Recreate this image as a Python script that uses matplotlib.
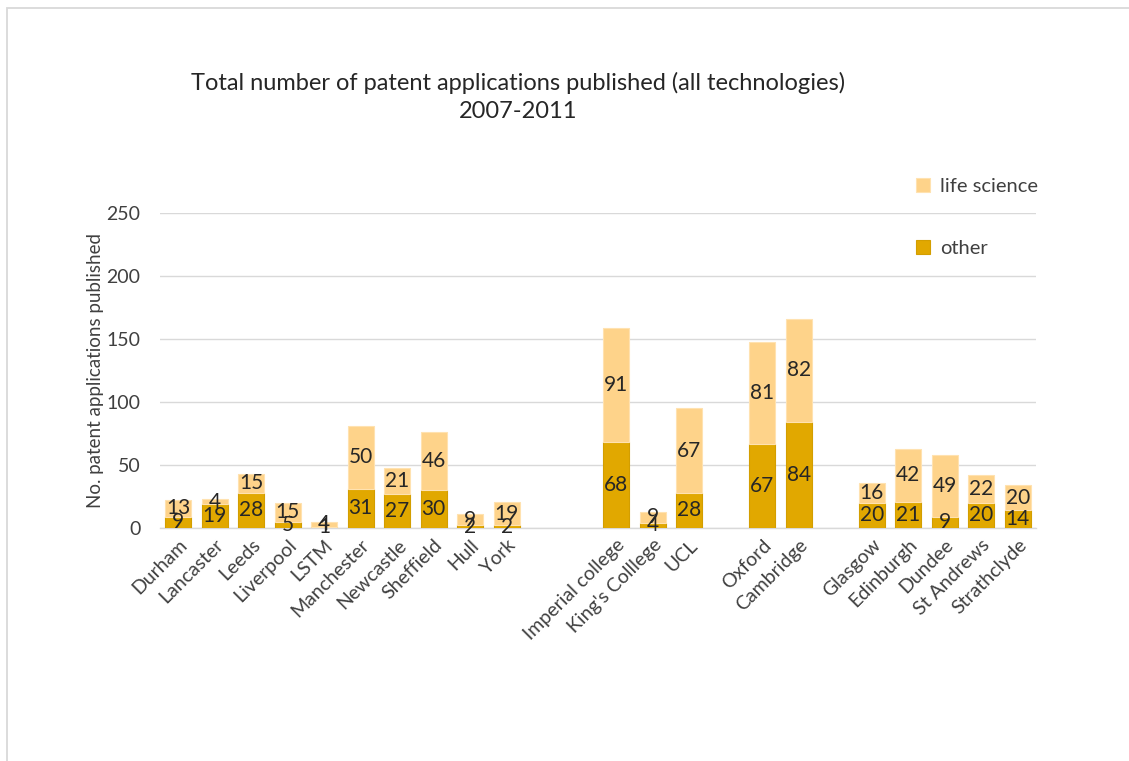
import matplotlib
matplotlib.use("Agg")
import matplotlib.pyplot as plt
from matplotlib.patches import Rectangle
import numpy as np

plt.rcParams['font.family'] = ['Lato', 'DejaVu Sans']

categories = ["Durham", "Lancaster", "Leeds", "Liverpool", "LSTM", "Manchester",
              "Newcastle", "Sheffield", "Hull", "York",
              "Imperial college", "King's Colllege", "UCL",
              "Oxford", "Cambridge",
              "Glasgow", "Edinburgh", "Dundee", "St Andrews", "Strathclyde"]
other = [9, 19, 28, 5, 1, 31, 27, 30, 2, 2,
         68, 4, 28,
         67, 84,
         20, 21, 9, 20, 14]
life_science = [13, 4, 15, 15, 4, 50, 21, 46, 9, 19,
                91, 9, 67,
                81, 82,
                16, 42, 49, 22, 20]
group_sizes = [10, 3, 2, 5]
group_gaps = [2, 1, 1]

# positions with empty slots between groups
pos = []
x = 0
for gi, n in enumerate(group_sizes):
    for _ in range(n):
        pos.append(x)
        x += 1
    if gi < len(group_gaps):
        x += group_gaps[gi]
n_slots = x
pos = np.array(pos)

c_other = "#E1A800"
c_life = "#FED38A"
text_c = "#262626"

W, H = 1129, 761
fig = plt.figure(figsize=(W / 100, H / 100), dpi=100)
fig.patch.set_facecolor("white")

# chart border
fig.add_artist(Rectangle((7 / W, -0.1), 1.2, 1 - 8.5 / H + 0.1,
                         transform=fig.transFigure, fill=False,
                         edgecolor="#D9D9D9", linewidth=1.3))

ax = fig.add_axes([160 / W, (H - 528) / H, (1036 - 160) / W, (528 - 213) / H])
ax.set_xlim(-0.5, n_slots - 0.5)
ax.set_ylim(0, 250)

bw = 0.72
b1 = ax.bar(pos, other, width=bw, color=c_other, edgecolor="#D39E00",
            linewidth=0.8, label="other", zorder=3)
b2 = ax.bar(pos, life_science, width=bw, bottom=other, color=c_life,
            edgecolor="#FFE2B0", linewidth=0.8, label="life science", zorder=3)
ax.bar_label(b1, label_type='center', fontsize=15, color=text_c)
ax.bar_label(b2, label_type='center', fontsize=15, color=text_c)

ax.set_yticks([0, 50, 100, 150, 200, 250])
ax.yaxis.grid(True, color="#D9D9D9", linewidth=1.0, zorder=0)
ax.set_axisbelow(True)
for s in ["top", "right", "left"]:
    ax.spines[s].set_visible(False)
ax.spines["bottom"].set_color("#D9D9D9")
ax.spines["bottom"].set_linewidth(1.0)
ax.tick_params(axis='y', length=0, labelsize=14, labelcolor="#404040", pad=14)
ax.tick_params(axis='x', length=0, labelsize=14, labelcolor="#404040", pad=6)
ax.set_xticks(pos)
ax.set_xticklabels(categories, rotation=45, ha='right', rotation_mode='anchor')

ax.set_ylabel("No. patent applications published", fontsize=13.5, color="#404040",
              labelpad=2)

fig.text(518 / W, 1 - 83 / H,
         "Total number of patent applications published (all technologies)",
         ha='center', va='center', fontsize=17, color=text_c)
fig.text(518 / W, 1 - 112 / H, "2007-2011", ha='center', va='center',
         fontsize=17, color=text_c)

leg = fig.legend(handles=[b2, b1], labels=["life science", "other"],
                 loc='upper left', bbox_to_anchor=(898 / W, 1 - 160 / H),
                 frameon=False, fontsize=14.5, labelspacing=2.2,
                 handlelength=0.7, handleheight=0.7, handletextpad=0.5,
                 labelcolor="#404040")

fig.savefig("out.png", dpi=100, facecolor="white")
